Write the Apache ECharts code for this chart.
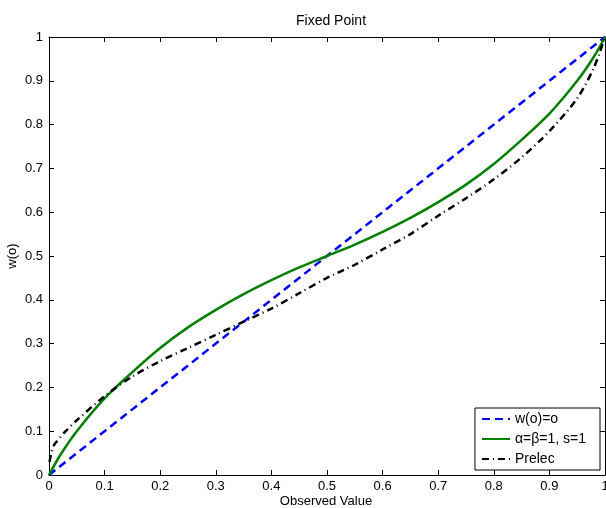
<!DOCTYPE html>
<html>
<head>
<meta charset="utf-8">
<script src="https://cdn.jsdelivr.net/npm/echarts@6/dist/echarts.min.js"></script>
<style>
html, body { margin: 0; padding: 0; background: #fff; }
#chart { width: 606px; height: 508px; }
</style>
</head>
<body>
<div id="chart"></div>
<script>
// values
var identX = [0, 1]
var identY = [0, 1]

var greenX = [0, 0.02, 0.05, 0.1, 0.15, 0.2, 0.25, 0.3, 0.35, 0.4, 0.45, 0.5, 0.55, 0.6, 0.65, 0.7, 0.75, 0.8, 0.85, 0.9, 0.95, 0.98, 1]
var greenY = [0, 0.045, 0.1, 0.175, 0.235, 0.29, 0.337, 0.377, 0.413, 0.445, 0.474, 0.5, 0.526, 0.555, 0.587, 0.623, 0.663, 0.71, 0.765, 0.825, 0.9, 0.955, 1]

var prelecX = [0.001, 0.005, 0.01, 0.03, 0.05, 0.1, 0.15, 0.2, 0.25, 0.3, 0.35, 0.4, 0.45, 0.5, 0.55, 0.6, 0.65, 0.7, 0.75, 0.8, 0.85, 0.9, 0.95, 0.98, 1]
var prelecY = [0.03, 0.055, 0.07, 0.1, 0.125, 0.18, 0.225, 0.26, 0.29, 0.32, 0.35, 0.38, 0.415, 0.45, 0.48, 0.515, 0.55, 0.592, 0.632, 0.675, 0.725, 0.785, 0.86, 0.93, 1]

var seriesNames = ['w(o)=o', 'α=β=1, s=1', 'Prelec']

function pairs (xs, ys) {
  var arr = []
  for (var i = 0; i < xs.length; i++) {
    arr.push([xs[i], ys[i]])
  }
  return arr
}

var font = 'Liberation Sans, Arial, Helvetica, sans-serif'

var baseAxis = {
  type: 'value',
  min: 0,
  max: 1,
  interval: 0.1,
  axisLine: { show: true, onZero: false, lineStyle: { color: '#000', width: 1 } },
  axisTick: { show: true, inside: true, length: 5, lineStyle: { color: '#000' } },
  splitLine: { show: false }
}

var option = {
  animation: false,
  backgroundColor: '#fff',
  title: {
    text: 'Fixed Point',
    left: 326,
    top: 9,
    textAlign: 'center',
    textStyle: { fontFamily: font, fontSize: 14, fontWeight: 'normal', color: '#000' }
  },
  // axis names
  graphic: [
    {
      type: 'text',
      x: 326,
      y: 501,
      style: {
        text: 'Observed Value',
        fontFamily: font,
        fontSize: 13,
        fill: '#000',
        align: 'center',
        verticalAlign: 'middle'
      }
    },
    {
      type: 'text',
      x: 12,
      y: 256,
      rotation: Math.PI / 2,
      style: {
        text: 'w(o)',
        fontFamily: font,
        fontSize: 13,
        fill: '#000',
        align: 'center',
        verticalAlign: 'middle'
      }
    }
  ],
  legend: {
    data: seriesNames,
    orient: 'vertical',
    right: 6,
    bottom: 38,
    itemWidth: 28,
    itemHeight: 12,
    itemGap: 6,
    padding: [4, 14, 4, 6],
    borderColor: '#000',
    borderWidth: 1,
    backgroundColor: '#fff',
    itemStyle: { opacity: 0 },
    textStyle: { fontFamily: font, fontSize: 14, color: '#000' }
  },
  grid: { left: 49, top: 37, right: 1, bottom: 33, containLabel: false, outerBoundsMode: 'none' },
  xAxis: [
    Object.assign({}, baseAxis, {
      position: 'bottom',
      axisLabel: { fontFamily: font, fontSize: 13, color: '#000', margin: 5 }
    }),
    Object.assign({}, baseAxis, {
      position: 'top',
      axisLabel: { show: false }
    })
  ],
  yAxis: [
    Object.assign({}, baseAxis, {
      position: 'left',
      axisLabel: { fontFamily: font, fontSize: 13, color: '#000', margin: 6 }
    }),
    Object.assign({}, baseAxis, {
      position: 'right',
      axisLabel: { show: false }
    })
  ],
  series: [
    {
      name: seriesNames[0],
      type: 'line',
      data: pairs(identX, identY),
      showSymbol: false,
      symbol: 'none',
      itemStyle: { color: '#0000ff' },
      lineStyle: { color: '#0000ff', width: 2.5, type: [8, 5] }
    },
    {
      name: seriesNames[1],
      type: 'line',
      data: pairs(greenX, greenY),
      smooth: 0.3,
      showSymbol: false,
      symbol: 'none',
      itemStyle: { color: '#008000' },
      lineStyle: { color: '#008000', width: 2.5 }
    },
    {
      name: seriesNames[2],
      type: 'line',
      data: pairs(prelecX, prelecY),
      smooth: 0.3,
      showSymbol: false,
      symbol: 'none',
      itemStyle: { color: '#000' },
      lineStyle: { color: '#000', width: 2.5, type: [7, 4, 1, 4] }
    }
  ]
}

var chart = echarts.init(document.getElementById('chart'))
chart.setOption(option)
</script>
</body>
</html>
